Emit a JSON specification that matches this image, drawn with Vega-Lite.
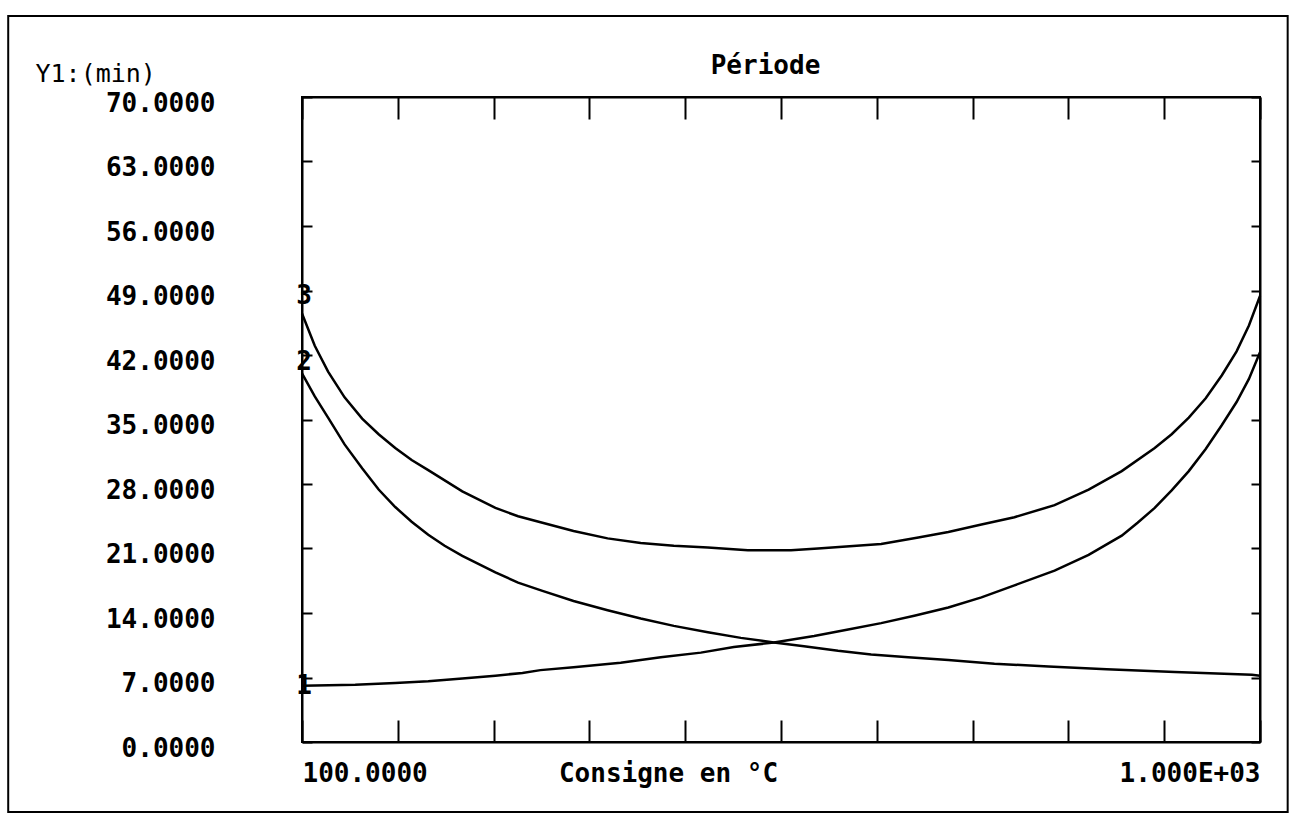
{
  "$schema": "https://vega.github.io/schema/vega-lite/v6.json",
  "width": 958,
  "height": 645,
  "autosize": {"type": "none"},
  "padding": {"left": 302, "top": 97, "right": 37, "bottom": 83},
  "background": "white",
  "config": {
    "view": {"stroke": "black", "strokeWidth": 2},
    "font": "DejaVu Sans Mono",
    "axis": {"domainColor": "black", "tickColor": "black", "tickWidth": 2, "domainWidth": 2, "grid": false, "labelColor": "black", "titleColor": "black"}
  },
  "datasets": {
    "curves": [
      {"T": 100, "P": 46.5, "courbe": "3"},
      {"T": 112, "P": 43.0, "courbe": "3"},
      {"T": 124.5, "P": 40.2, "courbe": "3"},
      {"T": 140, "P": 37.4, "courbe": "3"},
      {"T": 156.5, "P": 35.1, "courbe": "3"},
      {"T": 172, "P": 33.4, "courbe": "3"},
      {"T": 187.6, "P": 31.9, "courbe": "3"},
      {"T": 203, "P": 30.6, "courbe": "3"},
      {"T": 218.6, "P": 29.5, "courbe": "3"},
      {"T": 250.6, "P": 27.2, "courbe": "3"},
      {"T": 281.7, "P": 25.4, "courbe": "3"},
      {"T": 303, "P": 24.5, "courbe": "3"},
      {"T": 325.9, "P": 23.8, "courbe": "3"},
      {"T": 355.1, "P": 22.9, "courbe": "3"},
      {"T": 387.1, "P": 22.1, "courbe": "3"},
      {"T": 418.2, "P": 21.6, "courbe": "3"},
      {"T": 449.3, "P": 21.3, "courbe": "3"},
      {"T": 481.3, "P": 21.1, "courbe": "3"},
      {"T": 518.9, "P": 20.8, "courbe": "3"},
      {"T": 559.4, "P": 20.8, "courbe": "3"},
      {"T": 584.8, "P": 21.0, "courbe": "3"},
      {"T": 644.1, "P": 21.5, "courbe": "3"},
      {"T": 679.0, "P": 22.2, "courbe": "3"},
      {"T": 707.2, "P": 22.8, "courbe": "3"},
      {"T": 738.3, "P": 23.6, "courbe": "3"},
      {"T": 769.3, "P": 24.4, "courbe": "3"},
      {"T": 807.0, "P": 25.7, "courbe": "3"},
      {"T": 839.0, "P": 27.4, "courbe": "3"},
      {"T": 870.1, "P": 29.4, "courbe": "3"},
      {"T": 901.1, "P": 31.9, "courbe": "3"},
      {"T": 917, "P": 33.4, "courbe": "3"},
      {"T": 933.1, "P": 35.2, "courbe": "3"},
      {"T": 949, "P": 37.3, "courbe": "3"},
      {"T": 964.2, "P": 39.8, "courbe": "3"},
      {"T": 978, "P": 42.4, "courbe": "3"},
      {"T": 989.6, "P": 45.2, "courbe": "3"},
      {"T": 1000, "P": 48.4, "courbe": "3"},
      {"T": 100, "P": 40.0, "courbe": "2"},
      {"T": 112, "P": 37.5, "courbe": "2"},
      {"T": 124.5, "P": 35.2, "courbe": "2"},
      {"T": 140, "P": 32.3, "courbe": "2"},
      {"T": 156.5, "P": 29.7, "courbe": "2"},
      {"T": 172, "P": 27.4, "courbe": "2"},
      {"T": 187.6, "P": 25.5, "courbe": "2"},
      {"T": 203, "P": 23.9, "courbe": "2"},
      {"T": 218.6, "P": 22.5, "courbe": "2"},
      {"T": 234, "P": 21.3, "courbe": "2"},
      {"T": 250.6, "P": 20.2, "courbe": "2"},
      {"T": 281.7, "P": 18.4, "courbe": "2"},
      {"T": 303, "P": 17.3, "courbe": "2"},
      {"T": 325.9, "P": 16.4, "courbe": "2"},
      {"T": 355.1, "P": 15.3, "courbe": "2"},
      {"T": 387.1, "P": 14.3, "courbe": "2"},
      {"T": 418.2, "P": 13.4, "courbe": "2"},
      {"T": 449.3, "P": 12.6, "courbe": "2"},
      {"T": 481.3, "P": 11.9, "courbe": "2"},
      {"T": 512.3, "P": 11.3, "courbe": "2"},
      {"T": 543.4, "P": 10.8, "courbe": "2"},
      {"T": 571.6, "P": 10.4, "courbe": "2"},
      {"T": 603.6, "P": 9.9, "courbe": "2"},
      {"T": 634.7, "P": 9.5, "courbe": "2"},
      {"T": 669.5, "P": 9.2, "courbe": "2"},
      {"T": 707.2, "P": 8.9, "courbe": "2"},
      {"T": 750.5, "P": 8.5, "courbe": "2"},
      {"T": 801.3, "P": 8.2, "courbe": "2"},
      {"T": 855.9, "P": 7.9, "courbe": "2"},
      {"T": 920.0, "P": 7.6, "courbe": "2"},
      {"T": 992.4, "P": 7.3, "courbe": "2"},
      {"T": 1000, "P": 7.2, "courbe": "2"},
      {"T": 100, "P": 6.1, "courbe": "1"},
      {"T": 150, "P": 6.2, "courbe": "1"},
      {"T": 187.6, "P": 6.4, "courbe": "1"},
      {"T": 218.6, "P": 6.6, "courbe": "1"},
      {"T": 250.6, "P": 6.9, "courbe": "1"},
      {"T": 281.7, "P": 7.2, "courbe": "1"},
      {"T": 307.1, "P": 7.5, "courbe": "1"},
      {"T": 324.0, "P": 7.8, "courbe": "1"},
      {"T": 355.1, "P": 8.1, "courbe": "1"},
      {"T": 399.4, "P": 8.6, "courbe": "1"},
      {"T": 437.0, "P": 9.2, "courbe": "1"},
      {"T": 474.7, "P": 9.7, "courbe": "1"},
      {"T": 505.7, "P": 10.3, "courbe": "1"},
      {"T": 543.4, "P": 10.8, "courbe": "1"},
      {"T": 581.1, "P": 11.5, "courbe": "1"},
      {"T": 613.1, "P": 12.2, "courbe": "1"},
      {"T": 644.1, "P": 12.9, "courbe": "1"},
      {"T": 675.2, "P": 13.7, "courbe": "1"},
      {"T": 707.2, "P": 14.6, "courbe": "1"},
      {"T": 738.3, "P": 15.7, "courbe": "1"},
      {"T": 769.3, "P": 17.0, "courbe": "1"},
      {"T": 807.0, "P": 18.6, "courbe": "1"},
      {"T": 839.0, "P": 20.3, "courbe": "1"},
      {"T": 870.1, "P": 22.4, "courbe": "1"},
      {"T": 885, "P": 23.8, "courbe": "1"},
      {"T": 901.1, "P": 25.4, "courbe": "1"},
      {"T": 917, "P": 27.3, "courbe": "1"},
      {"T": 933.1, "P": 29.4, "courbe": "1"},
      {"T": 949, "P": 31.8, "courbe": "1"},
      {"T": 964.2, "P": 34.4, "courbe": "1"},
      {"T": 978, "P": 36.9, "courbe": "1"},
      {"T": 989.6, "P": 39.4, "courbe": "1"},
      {"T": 1000, "P": 42.3, "courbe": "1"}
    ],
    "labels": [
      {"T": 100, "P": 48.4, "courbe": "3"},
      {"T": 100, "P": 41.2, "courbe": "2"},
      {"T": 100, "P": 6.1, "courbe": "1"}
    ]
  },
  "layer": [
    {
      "data": {"values": [{}]},
      "mark": {"type": "rect", "fill": null, "stroke": "black", "strokeWidth": 2, "clip": false},
      "encoding": {
        "x": {"datum": -176, "type": "quantitative", "scale": {"domain": [100, 1000], "nice": false, "zero": false}, "axis": null},
        "x2": {"datum": 1026},
        "y": {"datum": 78.8, "type": "quantitative", "scale": {"domain": [0, 70], "nice": false, "zero": false}, "axis": null},
        "y2": {"datum": -7.6}
      }
    },
    {
      "data": {"name": "curves"},
      "mark": {"type": "line", "color": "black", "strokeWidth": 2.5},
      "encoding": {
        "x": {
          "field": "T", "type": "quantitative",
          "scale": {"domain": [100, 1000], "nice": false, "zero": false},
          "axis": {
            "orient": "bottom",
            "values": [100, 190, 280, 370, 460, 550, 640, 730, 820, 910, 1000],
            "tickSize": -22,
            "labelExpr": "datum.value == 100 ? '100.0000' : (datum.value == 1000 ? '1.000E+03' : '')",
            "labelFlush": true,
            "labelOverlap": false,
            "labelFontSize": 26,
            "labelFontWeight": "bold",
            "labelBaseline": "middle",
            "labelPadding": 53,
            "title": "Consigne en °C",
            "titleFontSize": 26,
            "titleFontWeight": "bold",
            "titleX": 366,
            "titleY": 31,
            "titleAlign": "center",
            "titleBaseline": "middle"
          }
        },
        "y": {
          "field": "P", "type": "quantitative",
          "scale": {"domain": [0, 70], "nice": false, "zero": false},
          "axis": {
            "orient": "left",
            "values": [0, 7, 14, 21, 28, 35, 42, 49, 56, 63, 70],
            "tickSize": -10,
            "labelExpr": "format(datum.value, '.4f')",
            "labelFontSize": 26,
            "labelFontWeight": "bold",
            "labelBaseline": "middle",
            "labelOffset": 6,
            "labelPadding": 97,
            "labelOverlap": false,
            "title": "Y1:(min)",
            "titleAngle": 0,
            "titleFontSize": 25,
            "titleFontWeight": "normal",
            "titleX": -267,
            "titleY": -24,
            "titleAlign": "left",
            "titleBaseline": "middle"
          }
        },
        "detail": {"field": "courbe", "type": "nominal"}
      }
    },
    {
      "data": {"name": "labels"},
      "mark": {"type": "text", "fontSize": 26, "fontWeight": "bold", "color": "black", "align": "center", "baseline": "middle", "dx": 2},
      "encoding": {
        "x": {
          "field": "T", "type": "quantitative",
          "scale": {"domain": [100, 1000], "nice": false, "zero": false},
          "axis": {
            "orient": "top",
            "values": [100, 190, 280, 370, 460, 550, 640, 730, 820, 910, 1000],
            "tickSize": -22,
            "labels": false,
            "title": "Période",
            "titleFontSize": 26,
            "titleFontWeight": "bold",
            "titleX": 463,
            "titleY": -32,
            "titleAlign": "center",
            "titleBaseline": "middle"
          }
        },
        "y": {
          "field": "P", "type": "quantitative",
          "scale": {"domain": [0, 70], "nice": false, "zero": false},
          "axis": {
            "orient": "right",
            "values": [0, 7, 14, 21, 28, 35, 42, 49, 56, 63, 70],
            "tickSize": -9,
            "labels": false,
            "title": null
          }
        },
        "text": {"field": "courbe", "type": "nominal"}
      }
    }
  ],
  "resolve": {"axis": {"x": "independent", "y": "independent"}}
}
